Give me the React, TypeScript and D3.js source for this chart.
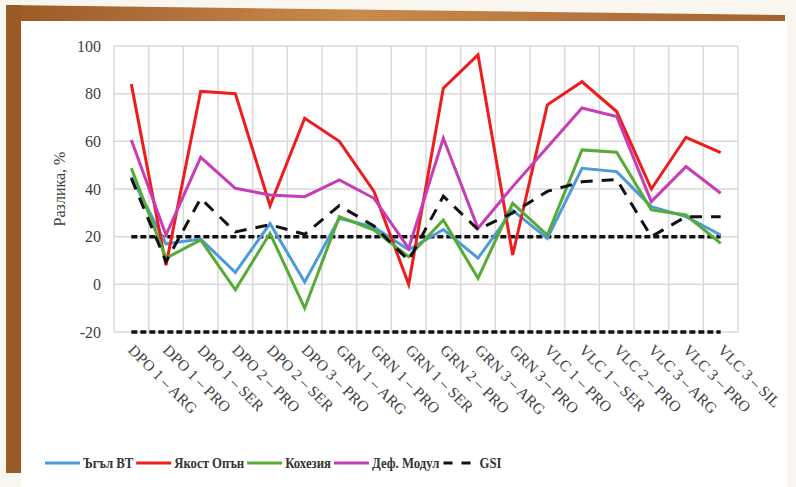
import React, { useRef, useEffect } from "react";
import * as d3 from "d3";

const categories = [
  "DPO 1 – ARG", "DPO 1 – PRO", "DPO 1 – SER", "DPO 2 – PRO", "DPO 2 – SER", "DPO 3 – PRO",
  "GRN 1 – ARG", "GRN 1 – PRO", "GRN 1 – SER", "GRN 2 – PRO", "GRN 3 – ARG", "GRN 3 – PRO",
  "VLC 1 – PRO", "VLC 1 – SER", "VLC 2 – PRO", "VLC 3 – ARG", "VLC 3 – PRO", "VLC 3 – SIL",
];

const angleBT = [45, 17, 19, 5, 25.5, 1, 27.7, 24, 14.5, 23, 11, 31, 19.3, 48.7, 47.3, 32.6, 28.4, 20.7];
const strengthTension = [84, 8, 81, 80, 33, 69.7, 60, 39, 0, 82.3, 96.3, 12.3, 75.3, 85, 72.5, 40, 61.7, 55.3];
const cohesion = [48.7, 11, 18.6, -2.3, 21.4, -10, 28.4, 22.8, 11.6, 27, 2.5, 34, 20.7, 56.4, 55.4, 31.2, 29.1, 17.2];
const defModulus = [60.6, 20.7, 53.3, 40.3, 37.5, 36.8, 43.8, 36.1, 15.1, 61.3, 23.5, 41, 57.5, 74, 70.4, 34.7, 49.4, 38.2];
const gsi = [44.5, 9.5, 36, 22, 25, 21, 33, 24.5, 10, 37, 23, 30, 39, 43, 44, 20, 28.4, 28.4];

const limits = [20, -20];
const yTicks = [-20, 0, 20, 40, 60, 80, 100];

const series = [
  { name: "Ъгъл ВТ", values: angleBT, color: "#4e9bd8", dash: null },
  { name: "Якост Опън", values: strengthTension, color: "#ee1d1d", dash: null },
  { name: "Кохезия", values: cohesion, color: "#55ab36", dash: null },
  { name: "Деф. Модул", values: defModulus, color: "#c63db5", dash: null },
  { name: "GSI", values: gsi, color: "#111111", dash: "12,9" },
];

const FONT = "'Liberation Serif', 'Times New Roman', serif";

export default function App() {
  const ref = useRef<SVGSVGElement | null>(null);

  useEffect(() => {
    const svg = d3.select(ref.current);
    svg.selectAll("*").remove();

    const W = 796, H = 487;
    const plot = { left: 114, right: 738, top: 46, bottom: 332 };

    // background and frame
    svg.append("rect").attr("width", W).attr("height", H).attr("fill", "#f9f5ef");
    svg.append("rect").attr("x", 21).attr("y", 20).attr("width", 766).attr("height", H - 20).attr("fill", "#ffffff");
    const defs = svg.append("defs");
    const gradTop = defs.append("linearGradient").attr("id", "frameTop");
    gradTop.append("stop").attr("offset", "0%").attr("stop-color", "#9c5a26");
    gradTop.append("stop").attr("offset", "45%").attr("stop-color", "#c98a4e");
    gradTop.append("stop").attr("offset", "100%").attr("stop-color", "#a4622c");
    svg.append("path")
      .attr("d", "M6,5 L785,15 L785,21 L21,21 L21,473 L6,473 Z")
      .attr("fill", "url(#frameTop)");
    svg.append("rect").attr("x", 6).attr("y", 5).attr("width", 15).attr("height", 468).attr("fill", "#9a5a28");

    const x = d3.scaleBand<string>().domain(categories).range([plot.left, plot.right]).paddingInner(0).paddingOuter(0);
    const cx = (i: number) => (x(categories[i]) as number) + x.bandwidth() / 2;
    const y = d3.scaleLinear().domain([-20, 100]).range([plot.bottom, plot.top]);

    // grid
    const grid = svg.append("g");
    grid.selectAll("line.h").data(yTicks).join("line")
      .attr("x1", plot.left).attr("x2", plot.right)
      .attr("y1", (d) => y(d)).attr("y2", (d) => y(d))
      .attr("stroke", "#d9d9d9").attr("stroke-width", 1.5);
    const edges = categories.map((c) => x(c) as number).concat([plot.right]);
    grid.selectAll("line.v").data(edges).join("line")
      .attr("x1", (d) => d).attr("x2", (d) => d)
      .attr("y1", plot.top).attr("y2", plot.bottom)
      .attr("stroke", "#d9d9d9").attr("stroke-width", 1.5);

    // y axis
    const yAxis = svg.append("g")
      .attr("transform", `translate(${plot.left},0)`)
      .call(d3.axisLeft(y).tickValues(yTicks).tickSize(0).tickPadding(13).tickFormat((d) => String(d)));
    yAxis.select(".domain").remove();
    yAxis.selectAll("text")
      .attr("font-family", FONT).attr("font-size", 16).attr("fill", "#404040");

    svg.append("text")
      .attr("transform", `translate(65,${(plot.top + plot.bottom) / 2}) rotate(-90)`)
      .attr("text-anchor", "middle")
      .attr("font-family", FONT).attr("font-size", 16).attr("fill", "#404040")
      .text("Разлика, %");

    // x labels
    svg.append("g").selectAll("text").data(categories).join("text")
      .attr("transform", (d, i) => `translate(${cx(i) - 4},${plot.bottom + 19}) rotate(45)`)
      .attr("font-family", FONT).attr("font-size", 15.5).attr("fill", "#404040")
      .text((d) => d);

    // threshold lines
    svg.append("g").selectAll("line").data(limits).join("line")
      .attr("x1", cx(0)).attr("x2", cx(categories.length - 1))
      .attr("y1", (d) => y(d)).attr("y2", (d) => y(d))
      .attr("stroke", "#111").attr("stroke-width", 3.5)
      .attr("stroke-dasharray", "6,3");

    // series lines
    const lineGen = d3.line<number>().x((d, i) => cx(i)).y((d) => y(d));
    series.forEach((s) => {
      const p = svg.append("path")
        .datum(s.values)
        .attr("d", lineGen)
        .attr("fill", "none")
        .attr("stroke", s.color)
        .attr("stroke-width", 3)
        .attr("stroke-linejoin", "miter");
      if (s.dash) p.attr("stroke-dasharray", s.dash);
    });

    // legend
    const legend = svg.append("g").attr("transform", "translate(45,463)");
    let lx = 0;
    series.forEach((s) => {
      const it = legend.append("g").attr("transform", `translate(${lx},0)`);
      const ln = it.append("line").attr("x1", 0).attr("x2", 35).attr("y1", 0).attr("y2", 0)
        .attr("stroke", s.color).attr("stroke-width", 3);
      if (s.dash) ln.attr("x1", 1).attr("x2", 28).attr("stroke-dasharray", "9,9");
      const t = it.append("text").attr("x", s.dash ? 37 : 38).attr("y", 5)
        .attr("font-family", FONT).attr("font-size", 14.5).attr("font-weight", "bold").attr("fill", "#333")
        .text(s.name);
      const w = (t.node() as SVGTextElement).getComputedTextLength() * 0.88;
      t.attr("textLength", w).attr("lengthAdjust", "spacingAndGlyphs");
      lx += 38 + w + 3;
    });
  }, []);

  return (
    <svg
      ref={ref}
      width={796}
      height={487}
      style={{ position: "absolute", left: 0, top: 0, display: "block" }}
    />
  );
}
